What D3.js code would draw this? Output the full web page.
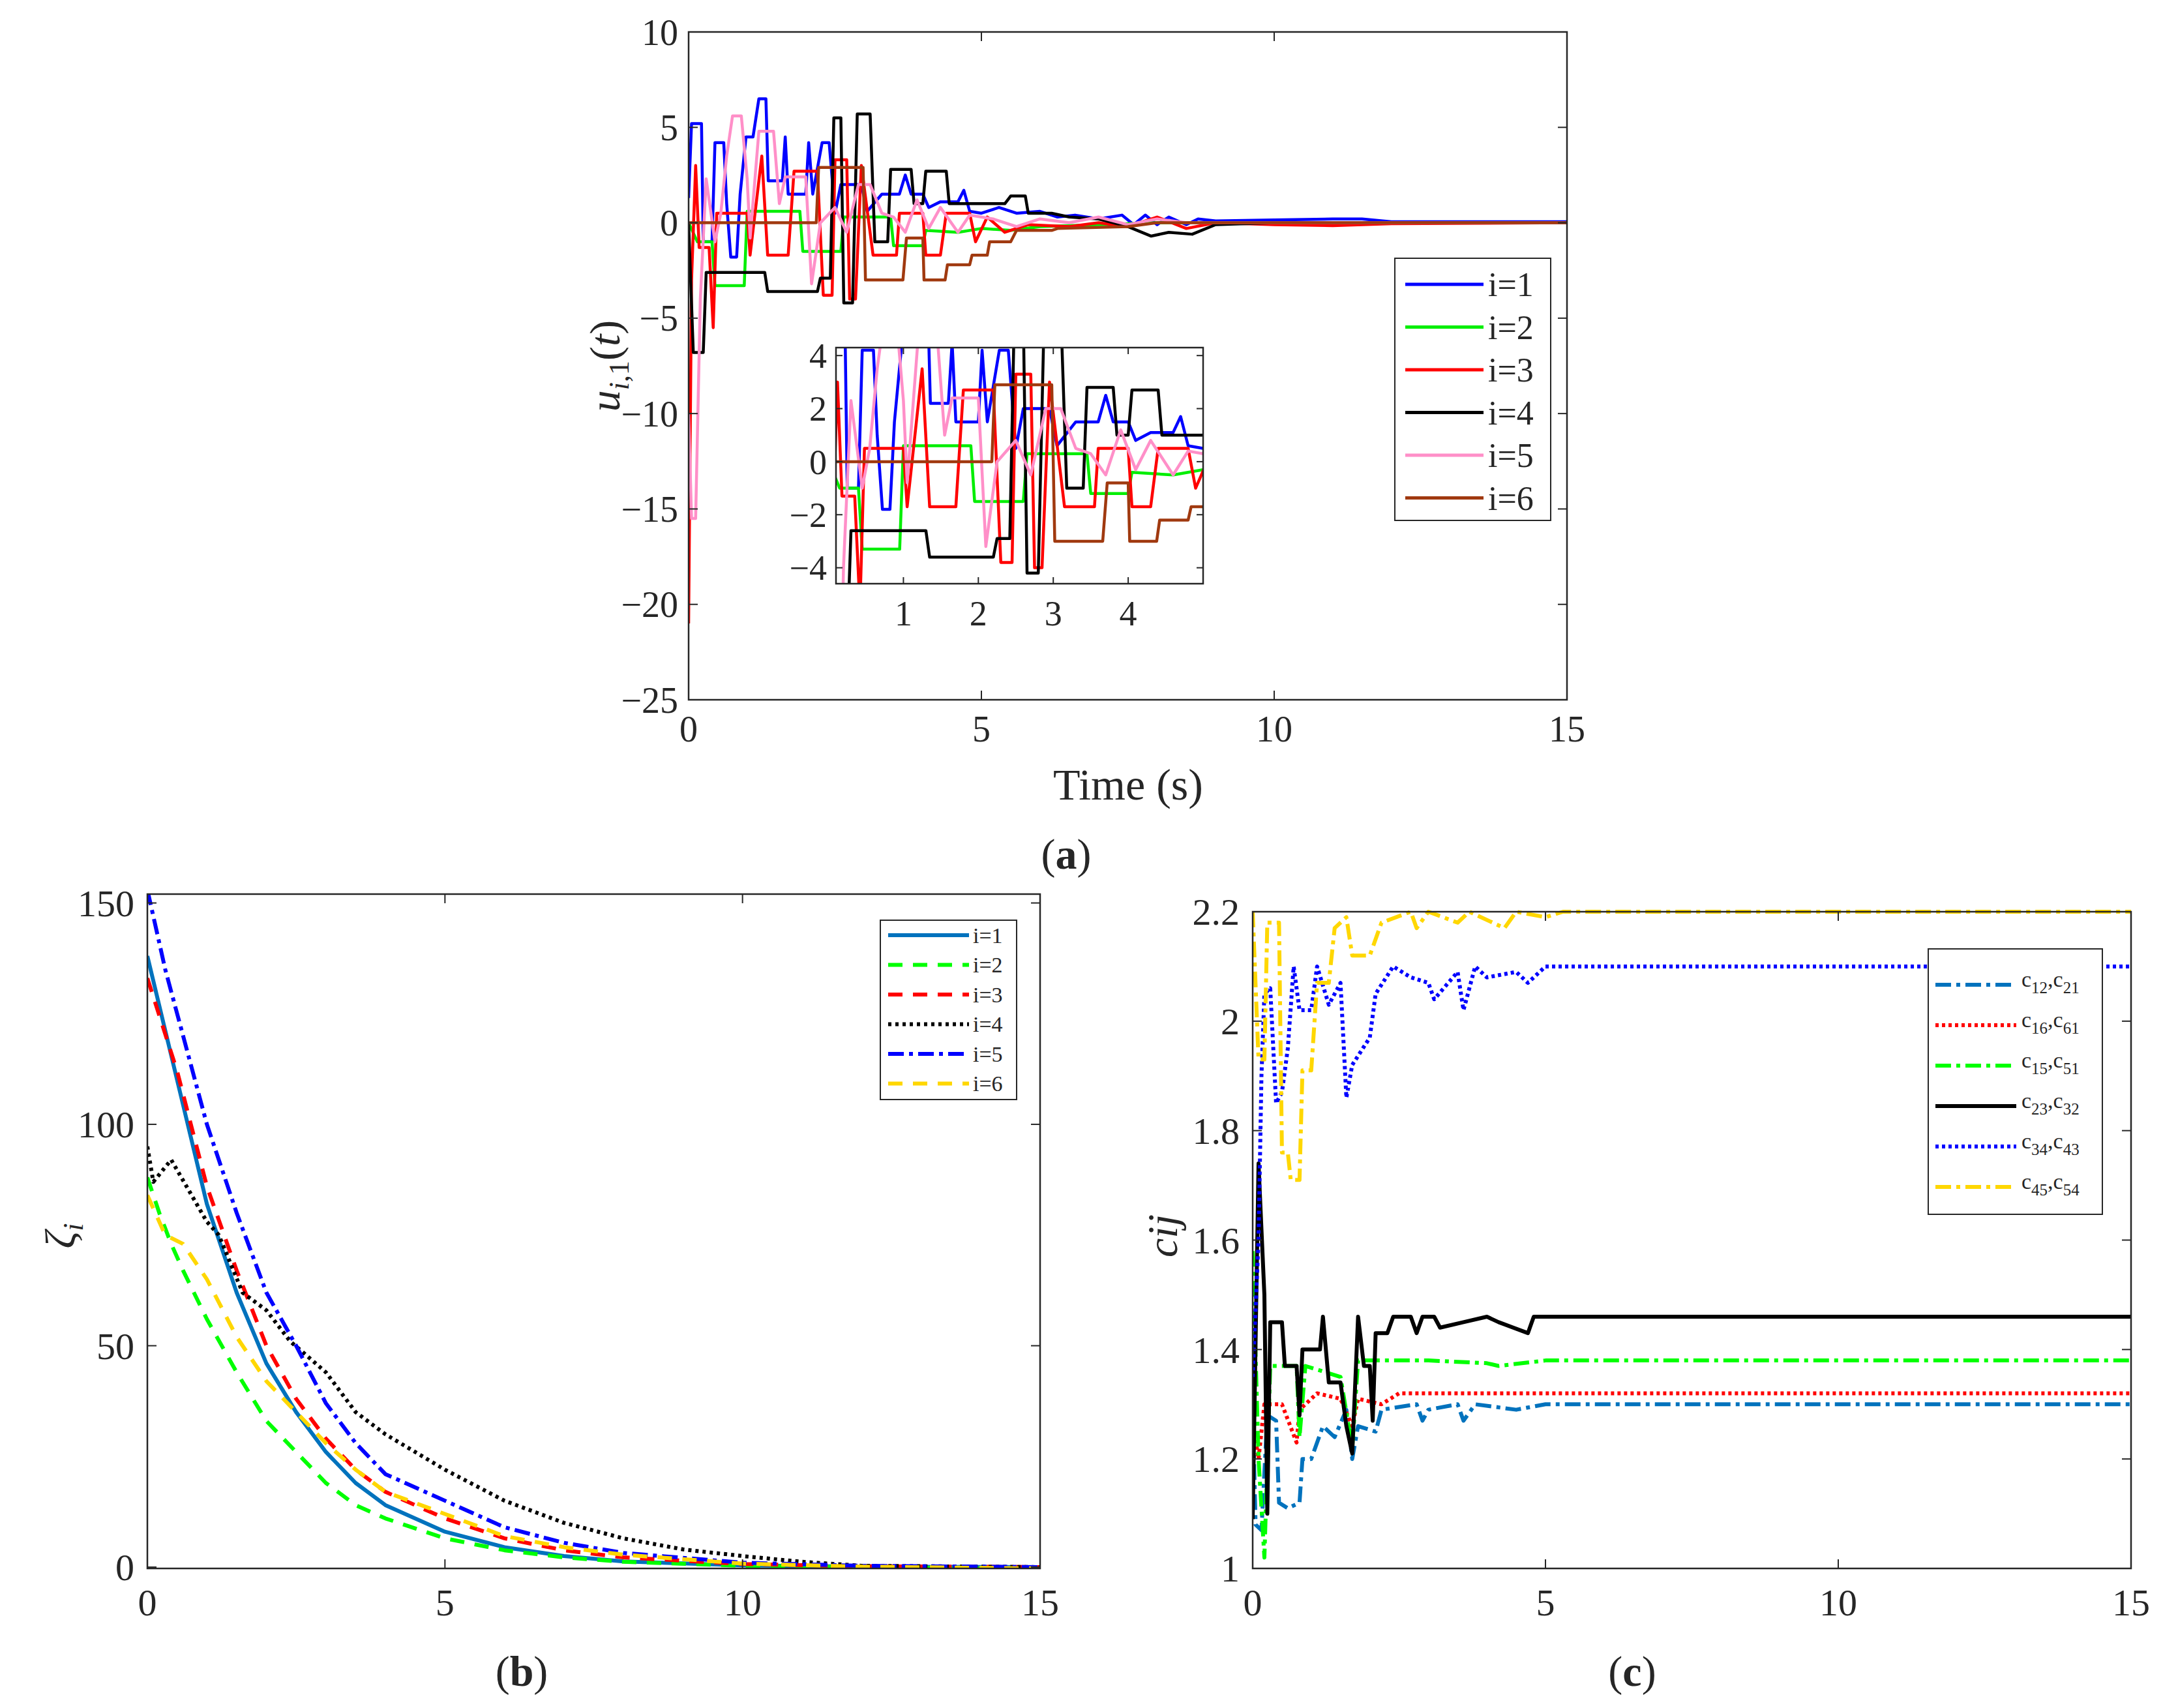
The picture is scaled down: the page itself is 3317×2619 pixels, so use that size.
<!DOCTYPE html>
<html><head><meta charset="utf-8">
<script src="https://cdn.jsdelivr.net/npm/d3@7"></script>
<style>body{margin:0;background:#fff}text{font-family:"Liberation Serif",serif;fill:#262626}</style>
</head><body><svg id="fig" width="3317" height="2619"></svg>
<script>
// ---- panel (a): control input u_{i,1}(t), [t, value] pairs
const uNames = ["i=1", "i=2", "i=3", "i=4", "i=5", "i=6"];
const uColors = ["#0000ff", "#00ee00", "#ff0000", "#000000", "#ff8fc8", "#a0390f"];
const u1 = [[0,1.3],[0.05,5.2],[0.22,5.2],[0.25,-1],[0.4,-1],[0.45,4.2],[0.6,4.2],[0.65,1],[0.72,-1.8],[0.82,-1.8],[0.88,1.5],[0.98,4.5],[1.1,4.5],[1.2,6.5],[1.32,6.5],[1.36,2.2],[1.6,2.2],[1.65,4.5],[1.7,1.5],[2.0,1.5],[2.05,4.2],[2.12,1.5],[2.28,4.2],[2.4,4.2],[2.5,0.5],[2.6,2],[2.95,2],[3.05,0.6],[3.3,1.5],[3.6,1.5],[3.7,2.5],[3.8,1.5],[4,1.5],[4.1,0.8],[4.3,1.1],[4.6,1.1],[4.7,1.7],[4.8,0.6],[5,0.5],[5.3,0.8],[5.6,0.5],[6,0.6],[6.3,0.3],[6.6,0.4],[7,0.2],[7.4,0.4],[7.6,-0.1],[7.8,0.4],[8,-0.1],[8.2,0.3],[8.5,-0.1],[8.7,0.2],[9,0.1],[10,0.15],[11,0.2],[11.5,0.2],[12,0.05],[15,0.05]];
const u2 = [[0,0],[0.15,-1],[0.4,-1],[0.45,-3.3],[0.95,-3.3],[1.0,0.6],[1.9,0.6],[1.95,-1.5],[2.6,-1.5],[2.65,0.3],[3.45,0.3],[3.5,-1.2],[4.0,-1.2],[4.05,-0.4],[4.6,-0.5],[5,-0.3],[5.5,-0.4],[6,-0.2],[7,-0.1],[8,0],[15,0]];
const u3 = [[0,-21],[0.05,-3],[0.12,3],[0.18,-1.3],[0.35,-1.3],[0.42,-5.5],[0.48,0.5],[1.0,0.5],[1.05,-1.7],[1.25,3.5],[1.35,-1.7],[1.7,-1.7],[1.8,2.7],[2.2,2.7],[2.3,-3.8],[2.45,-3.8],[2.5,3.3],[2.7,3.3],[2.75,-4],[2.85,-4],[2.95,3],[3.15,-1.7],[3.55,-1.7],[3.6,0.5],[4.0,0.5],[4.05,-1.7],[4.3,-1.7],[4.4,0.5],[4.8,0.5],[4.9,-1],[5.1,0.3],[5.4,-0.5],[5.8,-0.1],[6.5,-0.2],[7,0],[7.5,-0.2],[8,0.3],[8.5,-0.3],[9,0],[10,-0.1],[11,-0.15],[12,-0.05],[15,0]];
const u4 = [[0,0],[0.08,-6.8],[0.25,-6.8],[0.3,-2.6],[1.3,-2.6],[1.35,-3.6],[2.2,-3.6],[2.25,-2.9],[2.42,-2.9],[2.48,5.5],[2.6,5.5],[2.65,-4.2],[2.8,-4.2],[2.88,5.7],[3.1,5.7],[3.18,-1],[3.4,-1],[3.45,2.8],[3.8,2.8],[3.85,1],[4.0,1],[4.05,2.7],[4.4,2.7],[4.45,1],[5.4,1],[5.5,1.4],[5.75,1.4],[5.8,0.5],[6.2,0.5],[6.5,0.3],[7,0.2],[7.5,-0.2],[7.9,-0.7],[8.2,-0.5],[8.6,-0.6],[9,-0.1],[10,0],[15,0]];
const u5 = [[0,-10],[0.05,-15.5],[0.12,-15.5],[0.2,-4],[0.3,2.3],[0.45,-1],[0.55,0.5],[0.65,3.5],[0.75,5.6],[0.9,5.6],[1.0,2.3],[1.05,-0.8],[1.2,4.8],[1.45,4.8],[1.55,1],[1.65,2.4],[2.0,2.4],[2.1,-3.2],[2.25,0],[2.5,0.8],[2.7,-0.5],[2.9,2],[3.1,2],[3.3,0.5],[3.5,0.3],[3.7,-0.5],[3.9,1.2],[4.1,-0.3],[4.3,0.8],[4.6,-0.5],[4.8,0.4],[5.2,0.2],[5.6,-0.2],[6,0.2],[6.5,0],[7,0.3],[7.5,-0.1],[8,0.2],[8.5,0],[9,0],[15,0]];
const u6 = [[0,0],[2.18,0],[2.22,2.9],[2.98,2.9],[3.02,-3],[3.66,-3],[3.72,-0.8],[4.0,-0.8],[4.02,-3],[4.38,-3],[4.42,-2.2],[4.8,-2.2],[4.84,-1.7],[5.1,-1.7],[5.14,-1],[5.5,-1],[5.6,-0.4],[6.2,-0.4],[6.3,-0.3],[7.5,-0.2],[8,0],[15,0]];
const uSeries = [u1, u2, u3, u4, u5, u6];
const uTicksY = [-25, -20, -15, -10, -5, 0, 5, 10];
const uTicksX = [0, 5, 10, 15];
const insetTicksY = [-4, -2, 0, 2, 4];
const insetTicksX = [1, 2, 3, 4];

// ---- panel (b): zeta_i
const zNames = ["i=1", "i=2", "i=3", "i=4", "i=5", "i=6"];
const zColors = ["#0072bd", "#00ff00", "#ff0000", "#000000", "#0000ff", "#ffd700"];
const zDash = ["none", "22,16", "22,16", "5,6", "24,8,6,8", "22,16"];
const z1 = [[0,138],[0.5,110],[1,82],[1.5,62],[2,46],[2.5,35],[3,26],[3.5,19],[4,14],[5,8],[6,4.5],[7,2.5],[8,1.3],[10,0.4],[12,0.1],[15,0]];
const z2 = [[0,88],[0.2,80],[0.4,73],[0.6,67],[1,56],[1.5,44],[2,33],[2.5,26],[3,19],[3.5,14],[4,11],[5,6.5],[6,3.8],[7,2.2],[8,1.2],[10,0.3],[12,0],[15,-0.5]];
const z3 = [[0,133],[0.5,112],[1,86],[1.5,67],[2,50],[2.5,38],[3,29],[3.5,22],[4,17],[5,11],[6,6.5],[7,3.8],[8,2.2],[10,0.7],[12,0.2],[15,0]];
const z4 = [[0,95],[0.1,87],[0.4,92],[0.7,85],[1,78],[1.2,75],[1.6,62],[2,58],[2.4,51],[3,44],[3.5,35],[4,30],[4.5,26],[5,22],[6,15],[7,10],[8,6.5],[9,4],[10,2.5],[11,1.2],[12,0.3],[15,0]];
const z5 = [[0,153],[0.3,135],[0.7,115],[1,100],[1.5,80],[2,62],[2.5,50],[3,37],[3.5,28],[4,21],[5,15],[6,9],[7,5.5],[8,3.2],[10,1],[12,0.3],[15,0]];
const z6 = [[0,84],[0.3,75],[0.6,73],[1,65],[1.5,52],[2,42],[2.5,35],[3,28],[3.5,22],[4,17],[5,12],[6,7],[7,4.5],[8,2.8],[10,0.8],[12,0.1],[15,-0.3]];
const zSeries = [z1, z2, z3, z4, z5, z6];
const zTicksY = [0, 50, 100, 150];
const zTicksX = [0, 5, 10, 15];

// ---- panel (c): coupling gains c_ij
const cNames = [["12","21"],["16","61"],["15","51"],["23","32"],["34","43"],["45","54"]];
const cColors = ["#0072bd", "#ff0000", "#00ff00", "#000000", "#0000ff", "#ffd700"];
const cDash = ["24,8,6,8", "5,5", "24,8,6,8", "none", "5,5", "24,8,6,8"];
const c1 = [[0,1.3],[0.05,1.08],[0.15,1.07],[0.25,1.28],[0.4,1.27],[0.45,1.12],[0.6,1.11],[0.8,1.12],[0.85,1.2],[1,1.2],[1.2,1.26],[1.4,1.24],[1.6,1.29],[1.7,1.2],[1.8,1.26],[2.1,1.25],[2.2,1.29],[2.8,1.3],[2.9,1.27],[3,1.29],[3.5,1.3],[3.6,1.27],[3.8,1.3],[4.5,1.29],[5,1.3],[15,1.3]];
const c2 = [[0,1.27],[0.1,1.2],[0.2,1.3],[0.5,1.3],[0.75,1.23],[0.8,1.29],[1.1,1.32],[1.5,1.31],[1.7,1.26],[1.8,1.31],[2.2,1.3],[2.5,1.32],[3,1.32],[4,1.32],[15,1.32]];
const c3 = [[0,1.58],[0.1,1.2],[0.2,1.02],[0.3,1.37],[0.75,1.37],[0.8,1.24],[0.9,1.37],[1.5,1.35],[1.7,1.22],[1.8,1.38],[3,1.38],[4,1.375],[4.2,1.37],[5,1.38],[15,1.38]];
const c4 = [[0,1.09],[0.1,1.74],[0.2,1.5],[0.25,1.1],[0.3,1.45],[0.5,1.45],[0.55,1.37],[0.75,1.37],[0.8,1.28],[0.85,1.4],[1.15,1.4],[1.2,1.46],[1.3,1.34],[1.5,1.34],[1.6,1.26],[1.7,1.21],[1.8,1.46],[1.9,1.37],[2,1.37],[2.05,1.27],[2.1,1.43],[2.3,1.43],[2.4,1.46],[2.7,1.46],[2.8,1.43],[2.9,1.46],[3.1,1.46],[3.2,1.44],[3.6,1.45],[4,1.46],[4.2,1.45],[4.7,1.43],[4.8,1.46],[15,1.46]];
const c5 = [[0,1.35],[0.1,1.6],[0.15,1.9],[0.2,2.05],[0.3,2.06],[0.4,1.85],[0.5,1.87],[0.6,1.95],[0.7,2.1],[0.8,2.02],[1,2.02],[1.1,2.1],[1.3,2.03],[1.5,2.07],[1.6,1.86],[1.7,1.92],[2,1.97],[2.1,2.05],[2.4,2.1],[2.7,2.08],[3,2.07],[3.1,2.04],[3.5,2.09],[3.6,2.02],[3.8,2.1],[4,2.08],[4.5,2.09],[4.7,2.07],[5,2.1],[15,2.1]];
const c6 = [[0,2.2],[0.1,1.93],[0.2,1.93],[0.25,2.18],[0.45,2.18],[0.5,1.76],[0.6,1.76],[0.65,1.71],[0.8,1.71],[0.85,1.91],[1,1.91],[1.1,2.07],[1.3,2.07],[1.4,2.17],[1.6,2.19],[1.7,2.12],[2,2.12],[2.2,2.18],[2.7,2.2],[2.8,2.17],[3,2.2],[3.5,2.18],[3.7,2.2],[4.3,2.17],[4.5,2.2],[5,2.19],[5.3,2.2],[15,2.2]];
const cSeries = [c1, c2, c3, c4, c5, c6];
const cTicksY = [1, 1.2, 1.4, 1.6, 1.8, 2, 2.2];
const cTicksX = [0, 5, 10, 15];

const svg = d3.select("#fig");

function makeAxes(g, x, y, xt, yt, fs, tickLen, xOff, yOff) {
    const [x0, x1] = x.range(), [y1, y0] = y.range();
    const ax = g.append("g");
    ax.append("rect").attr("x", x0).attr("y", y0).attr("width", x1 - x0).attr("height", y1 - y0)
        .attr("fill", "none").attr("stroke", "#262626").attr("stroke-width", 2.5);
    xt.forEach(t => {
        const px = x(t);
        ax.append("line").attr("x1", px).attr("x2", px).attr("y1", y1).attr("y2", y1 - tickLen).attr("stroke", "#262626").attr("stroke-width", 2);
        ax.append("line").attr("x1", px).attr("x2", px).attr("y1", y0).attr("y2", y0 + tickLen).attr("stroke", "#262626").attr("stroke-width", 2);
        ax.append("text").attr("x", px).attr("y", y1 + xOff).attr("text-anchor", "middle").attr("font-size", fs).text(t);
    });
    yt.forEach(t => {
        const py = y(t);
        ax.append("line").attr("x1", x0).attr("x2", x0 + tickLen).attr("y1", py).attr("y2", py).attr("stroke", "#262626").attr("stroke-width", 2);
        ax.append("line").attr("x1", x1).attr("x2", x1 - tickLen).attr("y1", py).attr("y2", py).attr("stroke", "#262626").attr("stroke-width", 2);
        ax.append("text").attr("x", x0 - yOff).attr("y", py).attr("dy", "0.35em").attr("text-anchor", "end").attr("font-size", fs).text(t.toString().replace("-", "\u2212"));
    });
}

function drawLines(g, x, y, series, colors, dashes, width, clipId) {
    const line = d3.line().x(d => x(d[0])).y(d => y(d[1]));
    g.append("g").attr("clip-path", `url(#${clipId})`)
        .selectAll("path").data(series).join("path")
        .attr("d", line).attr("fill", "none")
        .attr("stroke", (d, i) => colors[i])
        .attr("stroke-dasharray", (d, i) => dashes ? dashes[i] : null)
        .attr("stroke-width", width).attr("stroke-linejoin", "round");
}

function addClip(id, x, y) {
    const [x0, x1] = x.range(), [y1, y0] = y.range();
    svg.append("clipPath").attr("id", id).append("rect")
        .attr("x", x0).attr("y", y0).attr("width", x1 - x0).attr("height", y1 - y0);
}

// panel (a)
const xa = d3.scaleLinear().domain([0, 15]).range([1056, 2403]);
const ya = d3.scaleLinear().domain([-25, 10]).range([1073, 49]);
addClip("clipA", xa, ya);
const ga = svg.append("g");
drawLines(ga, xa, ya, uSeries, uColors, null, 4.5, "clipA");
makeAxes(ga, xa, ya, uTicksX, uTicksY, 56, 14, 64, 16);
ga.append("text").attr("x", 1730).attr("y", 1226).attr("text-anchor", "middle").attr("font-size", 68).text("Time (s)");
ga.append("text").attr("transform", "translate(950,561) rotate(-90)").attr("text-anchor", "middle").attr("font-size", 66)
    .html('<tspan font-style="italic">u</tspan><tspan font-style="italic" font-size="44" dy="14">i</tspan><tspan font-size="44">,1</tspan><tspan dy="-14">(</tspan><tspan font-style="italic">t</tspan>)');
ga.append("text").attr("x", 1635).attr("y", 1332).attr("text-anchor", "middle").attr("font-size", 66)
    .html('(<tspan font-weight="bold">a</tspan>)');

// legend (a)
const lga = ga.append("g");
lga.append("rect").attr("x", 2139).attr("y", 396).attr("width", 239).attr("height", 402).attr("fill", "#fff").attr("stroke", "#262626").attr("stroke-width", 2);
uNames.forEach((n, i) => {
    const ly = 436 + i * 65.5;
    lga.append("line").attr("x1", 2155).attr("x2", 2275).attr("y1", ly).attr("y2", ly).attr("stroke", uColors[i]).attr("stroke-width", 5);
    lga.append("text").attr("x", 2282).attr("y", ly).attr("dy", "0.35em").attr("font-size", 52).text(n);
});

// inset of panel (a)
const xi = d3.scaleLinear().domain([0.1, 5]).range([1282, 1845]);
const yi = d3.scaleLinear().domain([-4.6, 4.3]).range([895, 533]);
svg.append("rect").attr("x", 1282).attr("y", 533).attr("width", 563).attr("height", 362).attr("fill", "#fff");
addClip("clipI", xi, yi);
const gi = svg.append("g");
drawLines(gi, xi, yi, uSeries, uColors, null, 4.5, "clipI");
makeAxes(gi, xi, yi, insetTicksX, insetTicksY, 54, 10, 64, 14);

// panel (b)
const xb = d3.scaleLinear().domain([0, 15]).range([226, 1595]);
const yb = d3.scaleLinear().domain([-0.3, 152]).range([2405, 1371]);
addClip("clipB", xb, yb);
const gb = svg.append("g");
drawLines(gb, xb, yb, zSeries, zColors, zDash, 6, "clipB");
makeAxes(gb, xb, yb, zTicksX, zTicksY, 58, 14, 72, 20);
gb.append("text").attr("transform", "translate(115,1895) rotate(-90)").attr("text-anchor", "middle").attr("font-size", 66)
    .html('<tspan font-style="italic">ζ</tspan><tspan font-style="italic" font-size="44" dy="12">i</tspan>');
gb.append("text").attr("x", 800).attr("y", 2585).attr("text-anchor", "middle").attr("font-size", 66)
    .html('(<tspan font-weight="bold">b</tspan>)');
const lgb = gb.append("g");
lgb.append("rect").attr("x", 1350).attr("y", 1411).attr("width", 209).attr("height", 275).attr("fill", "#fff").attr("stroke", "#262626").attr("stroke-width", 2);
zNames.forEach((n, i) => {
    const ly = 1434 + i * 45.5;
    lgb.append("line").attr("x1", 1362).attr("x2", 1486).attr("y1", ly).attr("y2", ly).attr("stroke", zColors[i])
        .attr("stroke-dasharray", zDash[i]).attr("stroke-width", 6);
    lgb.append("text").attr("x", 1492).attr("y", ly).attr("dy", "0.35em").attr("font-size", 34).text(n);
});

// panel (c)
const xc = d3.scaleLinear().domain([0, 15]).range([1921, 3268]);
const yc = d3.scaleLinear().domain([1, 2.2]).range([2405, 1398]);
addClip("clipC", xc, d3.scaleLinear().domain([1, 2.2]).range([2405, 1392]));
const gc = svg.append("g");
drawLines(gc, xc, yc, cSeries, cColors, cDash, 6, "clipC");
makeAxes(gc, xc, yc, cTicksX, cTicksY, 58, 14, 72, 20);
gc.append("text").attr("transform", "translate(1805,1895) rotate(-90)").attr("text-anchor", "middle").attr("font-size", 66)
    .attr("font-style", "italic").text("cij");
gc.append("text").attr("x", 2503).attr("y", 2585).attr("text-anchor", "middle").attr("font-size", 66)
    .html('(<tspan font-weight="bold">c</tspan>)');
const lgc = gc.append("g");
lgc.append("rect").attr("x", 2957).attr("y", 1455).attr("width", 267).attr("height", 407).attr("fill", "#fff").attr("stroke", "#262626").attr("stroke-width", 2);
cNames.forEach((n, i) => {
    const ly = 1510 + i * 62;
    lgc.append("line").attr("x1", 2968).attr("x2", 3092).attr("y1", ly).attr("y2", ly).attr("stroke", cColors[i])
        .attr("stroke-dasharray", cDash[i]).attr("stroke-width", 6);
    lgc.append("text").attr("x", 3100).attr("y", ly).attr("dy", "0.1em").attr("font-size", 34)
        .html(`c<tspan font-size="25" dy="10">${n[0]}</tspan><tspan dy="-10">,c</tspan><tspan font-size="25" dy="10">${n[1]}</tspan>`);
});
</script></body></html>
